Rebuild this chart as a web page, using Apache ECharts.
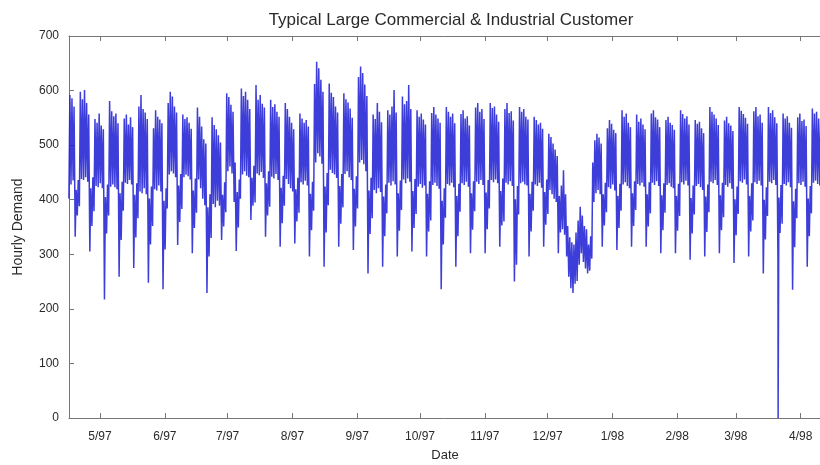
<!DOCTYPE html>
<html>
<head>
<meta charset="utf-8">
<script src="https://cdn.jsdelivr.net/npm/echarts@6/dist/echarts.min.js"></script>
<style>
  html, body { margin: 0; padding: 0; background: #ffffff; }
  #chart { width: 820px; height: 465px; }
</style>
</head>
<body>
<div id="chart"></div>
<script>
// First metered day: Wednesday 16 April 1997 (year, month index, day)
const firstDay = [1997, 3, 16];

// Daily overnight low of hourly demand, one row per week (Mon..Sun)
const dailyLow = [
  402, 428, 435, 332, 371,
  388, 438, 436, 441, 433, 305, 352,
  379, 425, 423, 430, 421, 217, 338,
  371, 424, 428, 423, 419, 259, 326,
  380, 431, 429, 436, 428, 275, 331,
  366, 415, 412, 421, 410, 248, 318,
  352, 419, 417, 426, 415, 236, 309,
  384, 446, 452, 448, 441, 317, 359,
  383, 441, 446, 443, 437, 302, 348,
  376, 437, 421, 402, 390, 229, 296,
  330, 392, 386, 398, 389, 326, 351,
  377, 452, 461, 448, 396, 306, 349,
  402, 446, 452, 444, 441, 363, 389,
  395, 448, 445, 451, 440, 332, 371,
  387, 442, 439, 447, 436, 314, 357,
  389, 438, 429, 421, 415, 320, 360,
  376, 432, 428, 435, 426, 296, 344,
  380, 468, 485, 479, 466, 277, 340,
  390, 455, 449, 446, 440, 314, 356,
  386, 447, 452, 441, 436, 308, 351,
  384, 468, 473, 465, 452, 265, 337,
  366, 418, 412, 421, 414, 277, 333,
  375, 431, 426, 434, 428, 296, 343,
  381, 437, 430, 439, 433, 305, 348,
  374, 424, 429, 422, 426, 296, 342,
  362, 427, 431, 425, 420, 236, 318,
  367, 429, 426, 431, 423, 277, 333,
  378, 430, 427, 433, 424, 302, 345,
  379, 433, 429, 436, 427, 302, 346,
  384, 436, 432, 437, 430, 314, 353,
  360, 431, 428, 434, 425, 250, 281,
  373, 430, 433, 428, 426, 296, 342,
  380, 428, 425, 431, 422, 314, 354,
  374, 418, 410, 402, 396, 302, 340,
  346, 336, 296, 259, 238, 229, 246,
  251, 281, 302, 286, 274, 265, 270,
  292, 396, 412, 418, 410, 314, 353,
  377, 423, 420, 428, 417, 308, 348,
  380, 428, 432, 425, 421, 314, 352,
  381, 429, 426, 431, 424, 314, 351,
  375, 431, 427, 434, 425, 302, 344,
  376, 427, 430, 424, 421, 302, 343,
  370, 432, 428, 435, 426, 290, 338,
  373, 425, 429, 423, 418, 296, 341,
  377, 433, 430, 436, 427, 302, 344,
  368, 427, 424, 430, 420, 284, 335,
  374, 434, 431, 437, 428, 296, 342,
  362, 432, 429, 435, 426, 265, 327,
  370, 433, 430, 436, 427, 290, 339,
  356, 429, 426, 432, 423, 235, 313,
  366, 430, 427, 433, 424, 277, 333,
  375, 431, 435, 429, 426
];

// Daily afternoon peak of hourly demand, same layout
const dailyHigh = [
  592, 586, 571, 418, 436,
  598, 584, 601, 577, 556, 421, 441,
  548, 541, 558, 536, 529, 405, 428,
  581, 562, 553, 558, 540, 412, 433,
  549, 556, 538, 551, 533, 409, 430,
  571, 592, 566, 560, 548, 402, 424,
  531, 564, 552, 547, 540, 398, 421,
  577, 598, 589, 571, 560, 426, 447,
  556, 548, 551, 541, 530, 417, 439,
  569, 552, 534, 511, 503, 386, 410,
  551, 537, 529, 518, 505, 409, 432,
  595, 588, 574, 561, 468, 414, 437,
  604, 590, 598, 583, 566, 440, 462,
  610, 583, 592, 576, 569, 430, 452,
  583, 570, 575, 561, 552, 422, 444,
  577, 566, 552, 541, 529, 419, 440,
  558, 549, 541, 546, 534, 411, 433,
  612, 653, 641, 620, 598, 424, 449,
  613, 596, 588, 571, 560, 425, 447,
  595, 584, 578, 567, 550, 420, 443,
  625, 644, 632, 611, 590, 417, 440,
  556, 548, 577, 561, 542, 406, 428,
  564, 556, 571, 601, 560, 412, 435,
  589, 575, 581, 610, 566, 416, 438,
  564, 552, 558, 547, 538, 411, 434,
  559, 570, 556, 549, 541, 398, 421,
  570, 561, 552, 558, 540, 407, 429,
  557, 564, 549, 553, 536, 412, 434,
  569, 577, 561, 566, 548, 413, 436,
  577, 568, 571, 556, 543, 416, 439,
  566, 577, 559, 562, 545, 401, 425,
  570, 561, 566, 552, 547, 411, 433,
  552, 546, 538, 541, 530, 414, 437,
  521, 515, 503, 492, 480, 407, 426,
  454, 410, 352, 331, 322, 318, 340,
  362, 387, 371, 352, 346, 318, 333,
  468, 509, 521, 514, 503, 410, 431,
  531, 546, 539, 528, 522, 407, 429,
  564, 552, 558, 541, 533, 412, 434,
  556, 543, 549, 538, 529, 410, 432,
  558, 564, 551, 547, 533, 408, 430,
  546, 552, 541, 537, 528, 407, 429,
  564, 557, 549, 553, 538, 403, 426,
  546, 539, 543, 531, 522, 406, 428,
  570, 561, 556, 549, 537, 408, 431,
  545, 552, 540, 536, 526, 401, 424,
  570, 563, 557, 550, 539, 407, 430,
  562, 570, 553, 556, 541, 400, 423,
  570, 559, 564, 551, 540, 404, 427,
  558, 549, 553, 541, 532, 397, 420,
  551, 558, 544, 547, 535, 402, 425,
  567, 558, 561, 549, 541
];

// Single zero reading (meter dropout): [day index from firstDay, hour, demand]
const dropoutReading = [339, 5, 0];

// Month tick labels, May 1997 .. April 1998
const monthTickLabels = ['5/97', '6/97', '7/97', '8/97', '9/97', '10/97',
                         '11/97', '12/97', '1/98', '2/98', '3/98', '4/98'];

// Hour of day assigned to the daily low and the daily peak
const lowHour = 3;
const highHour = 14;

function stamp(day, hour) {
  return new Date(firstDay[0], firstDay[1], firstDay[2] + day, hour).getTime();
}

// Hourly-demand trace: low then peak for each day, plus the dropout reading
const trace = [];
for (let d = 0; d < dailyLow.length; d++) {
  trace.push([stamp(d, lowHour), dailyLow[d]]);
  if (d === dropoutReading[0]) {
    trace.push([stamp(d, dropoutReading[1]), dropoutReading[2]]);
  }
  trace.push([stamp(d, highHour), dailyHigh[d]]);
}

const axisMin = stamp(0, 4);
const axisMax = stamp(359, 17);
const FONT = 'Liberation Sans, Arial, Helvetica, sans-serif';
const AXIS_COLOR = '#767676';
const TEXT_COLOR = '#2a2a2a';

function monthLabel(value) {
  const dt = new Date(value);
  const idx = (dt.getFullYear() - 1997) * 12 + dt.getMonth() - 4;
  return monthTickLabels[idx] || '';
}

const timeAxisBase = {
  type: 'time',
  min: axisMin,
  max: axisMax,
  splitNumber: 12,
  minInterval: 28 * 86400000,
  maxInterval: 31 * 86400000,
  axisLine: { show: true, onZero: false, lineStyle: { color: AXIS_COLOR, width: 1 } },
  axisTick: { show: true, inside: true, length: 5, lineStyle: { color: AXIS_COLOR } },
  splitLine: { show: false },
  minorTick: { show: false }
};

const chart = echarts.init(document.getElementById('chart'), null, { renderer: 'canvas' });
chart.setOption({
  animation: false,
  backgroundColor: '#ffffff',
  title: {
    text: 'Typical Large Commercial & Industrial Customer',
    left: 446,
    top: 7,
    textAlign: 'center',
    textStyle: { fontFamily: FONT, fontSize: 17, fontWeight: 'normal', color: TEXT_COLOR }
  },
  grid: { left: 69, right: -1, top: 36, bottom: 47, outerBoundsMode: 'none' },
  xAxis: [
    Object.assign({}, timeAxisBase, {
      position: 'bottom',
      name: 'Date',
      nameLocation: 'middle',
      nameGap: 31,
      nameTextStyle: { fontFamily: FONT, fontSize: 13, color: TEXT_COLOR },
      axisLabel: {
        show: true, margin: 13, formatter: monthLabel,
        showMinLabel: false, showMaxLabel: false,
        fontFamily: FONT, fontSize: 12, color: TEXT_COLOR
      }
    }),
    Object.assign({}, timeAxisBase, {
      position: 'top',
      axisLabel: { show: false }
    })
  ],
  yAxis: {
    type: 'value',
    min: 0,
    max: 700,
    interval: 100,
    name: 'Hourly Demand',
    nameLocation: 'middle',
    nameGap: 44,
    nameTextStyle: { fontFamily: FONT, fontSize: 14, color: TEXT_COLOR },
    axisLine: { show: true, lineStyle: { color: AXIS_COLOR, width: 1 } },
    axisTick: { show: true, inside: true, length: 5, lineStyle: { color: AXIS_COLOR } },
    axisLabel: { margin: 10, fontFamily: FONT, fontSize: 12, color: TEXT_COLOR },
    splitLine: { show: false }
  },
  series: [{
    type: 'line',
    xAxisIndex: 0,
    data: trace,
    showSymbol: false,
    symbol: 'none',
    sampling: null,
    clip: true,
    lineStyle: { color: '#2222d4', width: 1.5, opacity: 0.88 }
  }]
});
</script>
</body>
</html>
